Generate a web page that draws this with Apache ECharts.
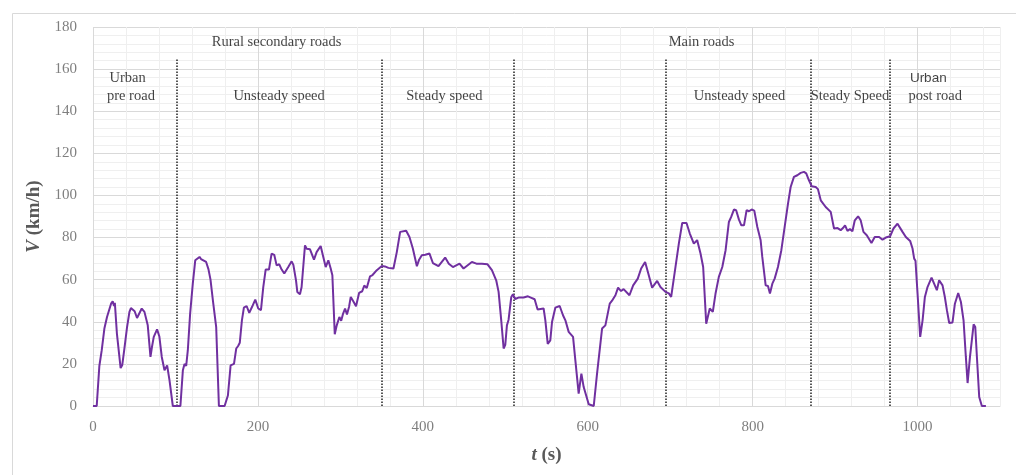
<!DOCTYPE html>
<html>
<head>
<meta charset="utf-8">
<script src="https://cdn.jsdelivr.net/npm/echarts@6/dist/echarts.min.js"></script>
<style>html,body{margin:0;padding:0;background:#fff;}#c{width:1016px;height:475px;}</style>
</head>
<body>
<div id="c"></div>
<script>
// time (s)
const times = [0,4.5,7.7,10.6,13.8,17,21.9,23.9,25.5,26.5,29,33.5,35.5,38,41.3,44.2,46,48.2,50.5,53.4,55,59.1,62.4,66.4,69.7,71.5,73.7,77.7,80.5,83.4,86.7,89.9,92.8,96.8,106,109,111,113,115,117.8,121,124,126,129.2,131,133,137.2,140,142.5,145.4,149.4,152.7,159.6,163.6,166.9,171,173.7,176,178,180.6,183,186.3,189.5,192.8,196.8,200.4,203.7,206.5,209.4,213.4,216.6,219.8,222.7,225.9,228.8,232,236.8,240.9,243,246.2,247.8,251,253,257.1,259.1,263.2,268,271.2,273.5,276.1,279.3,282.2,285.4,288.2,290.3,293.2,295.6,298.8,301,303,305.7,308,310.5,312.6,316,319,322.7,326.5,329,332,336,339,344.2,350.3,354,358.3,364.4,368.5,372.5,374.5,379.8,383.8,387.9,392.8,395.5,398.8,403,408.1,412.2,419,427.1,431.5,436.5,444.5,449.4,459.5,465,471.7,478.5,483.8,489,491.9,495.1,498,500,502,504,507.3,509.3,512,516,522.2,527.5,531,535.6,539.2,546.5,548.6,551.5,554.6,556.7,560.7,566,570,572.9,576.9,582.2,585,589,592.3,595.1,597,601.2,607.3,611.3,617.4,621.4,626.7,629.5,633.6,636.8,640.4,643.5,650.6,655.1,660.7,664.8,669.6,673.3,678.1,684.2,688.2,694.3,698.4,701.2,706.4,710.5,714.6,719.8,723.8,728.7,732.7,736.8,740,743.7,748,751.7,755,759,763.2,767.2,771.2,774,777.3,780,783.4,786.3,789.5,792.7,795.5,798.8,802,805.7,809.7,811.7,815.8,818.6,821,823.9,826.7,830.7,834.8,838.8,842.9,846.1,850.1,854.2,858.3,862.3,865,868.3,871.6,876.5,879.2,882.6,888.6,894.7,898.7,903,906.8,909.5,912.1,915,918,921,923.9,927.9,931,934.4,938.4,944.1,948.1,953.4,957.5,961.5,966.7,970.8,975.7,978,981.8,985.8,991,993.9,995.9,997.5,1000,1003.2,1006.1,1008.9,1012.1,1017,1020.1,1023.4,1026.2,1030.3,1033,1035.6,1038.4,1042.4,1045.3,1049.3,1052.6,1055.8,1058.6,1060.7,1063.5,1068,1070,1072,1074.8,1078,1082.9];
// speed (km/h)
const speeds = [0,0,19,26.5,36.8,42.3,48.6,49.7,47.5,49,34.4,18,19.5,27,37.5,44.7,46.5,47,45,41.8,42,46.3,44.7,38.3,23.3,28,32.8,36.4,33,23.3,17,19.3,12.2,0,0,17,20,19,26.5,43.9,58,69.2,69.5,70.8,69.8,70,68.4,65,60,50.2,37.5,0,0,5,19.3,20,27.3,28.5,30,40.7,46.7,47.5,44.2,47,50.5,46.3,45.5,56.5,64.8,64.8,72.4,71.8,66.8,67.3,64.8,62.9,66,68.7,67,59.7,54.2,53.1,56.5,76.3,74.7,74.4,69.5,73.1,73.5,76,70.8,66,69.2,65.4,62.1,34.1,38.3,42.3,40.5,43.5,46.3,43.5,47,51.8,49.5,47.4,53.7,54.5,57.2,56,61.6,62.2,64.5,66.5,66.3,65.6,65.3,73.2,82.7,83.5,83.2,80.3,74.8,66.4,69.5,71.6,71.8,72.4,67.9,66.4,70.5,67.6,66,67.6,65.3,68.4,67.6,67.6,67.3,64.5,59.7,54.2,40.7,27.3,29,38.3,41,51.8,53,50.8,51.5,51.5,52.1,51.5,50.7,45.8,46.3,40.7,29.5,31.2,39.9,46.7,47.5,43.1,40.7,35.2,32.8,21.7,5.9,15.4,9,9.5,0.8,0,15.4,36.8,38.3,48.6,50,52.6,56.2,54.6,55.5,52.6,57.3,60.5,65.3,68.4,63.2,56.2,59.4,56.5,54.2,53.5,51.8,66,77.1,86.9,86.9,81.9,77.1,78.8,72.4,66,39.1,46.3,44.7,53.4,61.3,66,74,87.4,89.8,93.3,93,88.5,85.8,85.8,93,92.5,93.3,92.8,85,78.7,70.8,57.3,57,53.4,58.1,60.5,66,74,85,96.1,104,108.8,109.6,110.7,111.2,110.5,107.2,104.4,104,103,97.7,94.5,92.2,84.3,84.5,83.5,84.5,85.8,83.2,84,83,88.2,90.1,88.2,82.7,81.1,77.4,80.3,80.3,79,80,80.6,84.3,86.6,86,82.7,80.3,78.4,74.8,70,69,53.4,32.8,40.7,51.8,56.5,61,58.1,55,59.7,57.3,52,45.5,39.4,39.7,48.6,53.7,49.4,40.7,23.3,10.9,23,38.8,37.5,23.3,4.3,0,0];
// section boundaries (s)
const boundaries = [101, 350, 510, 695, 870, 966];
const boundaryTop = 165;
// annotation texts with [t, v] anchors
const noteTexts = ['Rural secondary roads','Urban','pre road','Unsteady speed','Steady speed','Main roads','Unsteady speed','Steady Speed','Urban','post road'];
const noteT = [222.6, 42, 46, 225.7, 426.1, 738, 784, 918, 1013, 1021.4];
const noteV = [172.8, 155.7, 147.1, 147.1, 147.1, 172.8, 147.1, 147.1, 155.7, 147.1];
const noteSans = [false,false,false,false,false,false,false,false,true,false];

const SERIF = "'Liberation Serif', 'DejaVu Serif', serif";
const chart = echarts.init(document.getElementById('c'), null, {renderer:'canvas'});
const majorMinor = ['#d9d9d9','#efefef','#efefef','#efefef','#efefef'];

chart.setOption({
  animation: false,
  backgroundColor: '#fff',
  graphic: [{
    type: 'rect', left: 10, top: 11, shape: {width: 1020, height: 480},
    style: {fill: 'none', stroke: '#d9d9d9', lineWidth: 1}, silent: true, z: -10
  }],
  grid: {left: 93, right: 16, top: 27, bottom: 69},
  xAxis: {
    type: 'value', min: 0, max: 1100, interval: 40,
    axisLine: {show: true, lineStyle: {color: '#d9d9d9'}},
    axisTick: {show: false},
    splitLine: {show: true, lineStyle: {color: majorMinor, width: 1}},
    axisLabel: {
      interval: 0, margin: 14, color: '#7f7f7f', fontFamily: SERIF, fontSize: 15,
      formatter: v => (v % 200 === 0 ? String(v) : '')
    },
    name: '{i|t} (s)', nameLocation: 'middle', nameGap: 40,
    nameTextStyle: {
      fontFamily: SERIF, fontSize: 19, fontWeight: 'bold', color: '#595959',
      rich: {i: {fontFamily: SERIF, fontSize: 19, fontWeight: 'bold', fontStyle: 'italic', color: '#595959'}}
    }
  },
  yAxis: {
    type: 'value', min: 0, max: 180, interval: 4,
    axisLine: {show: false},
    axisTick: {show: false},
    splitLine: {show: true, lineStyle: {color: majorMinor, width: 1}},
    axisLabel: {
      interval: 0, margin: 16, color: '#7f7f7f', fontFamily: SERIF, fontSize: 15,
      formatter: v => (v % 20 === 0 ? String(v) : '')
    },
    name: '{i|V} (km/h)', nameLocation: 'middle', nameGap: 39, nameRotate: 90,
    nameTextStyle: {
      fontFamily: SERIF, fontSize: 19, fontWeight: 'bold', color: '#595959',
      rich: {i: {fontFamily: SERIF, fontSize: 19, fontWeight: 'bold', fontStyle: 'italic', color: '#595959'}}
    }
  },
  series: [
    {
      type: 'line',
      data: times.map((t, i) => [t, speeds[i]]),
      showSymbol: false,
      lineStyle: {color: '#7030a0', width: 2},
      itemStyle: {color: '#7030a0'},
      z: 5,
      markLine: {
        silent: true, symbol: ['none','none'],
        label: {show: false},
        lineStyle: {color: '#222', type: [1.5, 1.5], width: 1.5},
        data: boundaries.map(x => [{coord: [x, 0]}, {coord: [x, boundaryTop]}])
      }
    },
    {
      type: 'scatter',
      symbolSize: 1,
      itemStyle: {color: 'rgba(0,0,0,0)'},
      silent: true,
      z: 6,
      label: {
        show: true, position: 'inside', color: '#111',
        fontFamily: SERIF, fontSize: 14.5,
        formatter: p => p.name
      },
      data: noteTexts.map((s, i) => ({
        name: s, value: [noteT[i], noteV[i]],
        label: noteSans[i] ? {fontFamily: "'Liberation Sans', Arial, sans-serif", fontSize: 13.5} : {}
      }))
    }
  ]
});
</script>
</body>
</html>
